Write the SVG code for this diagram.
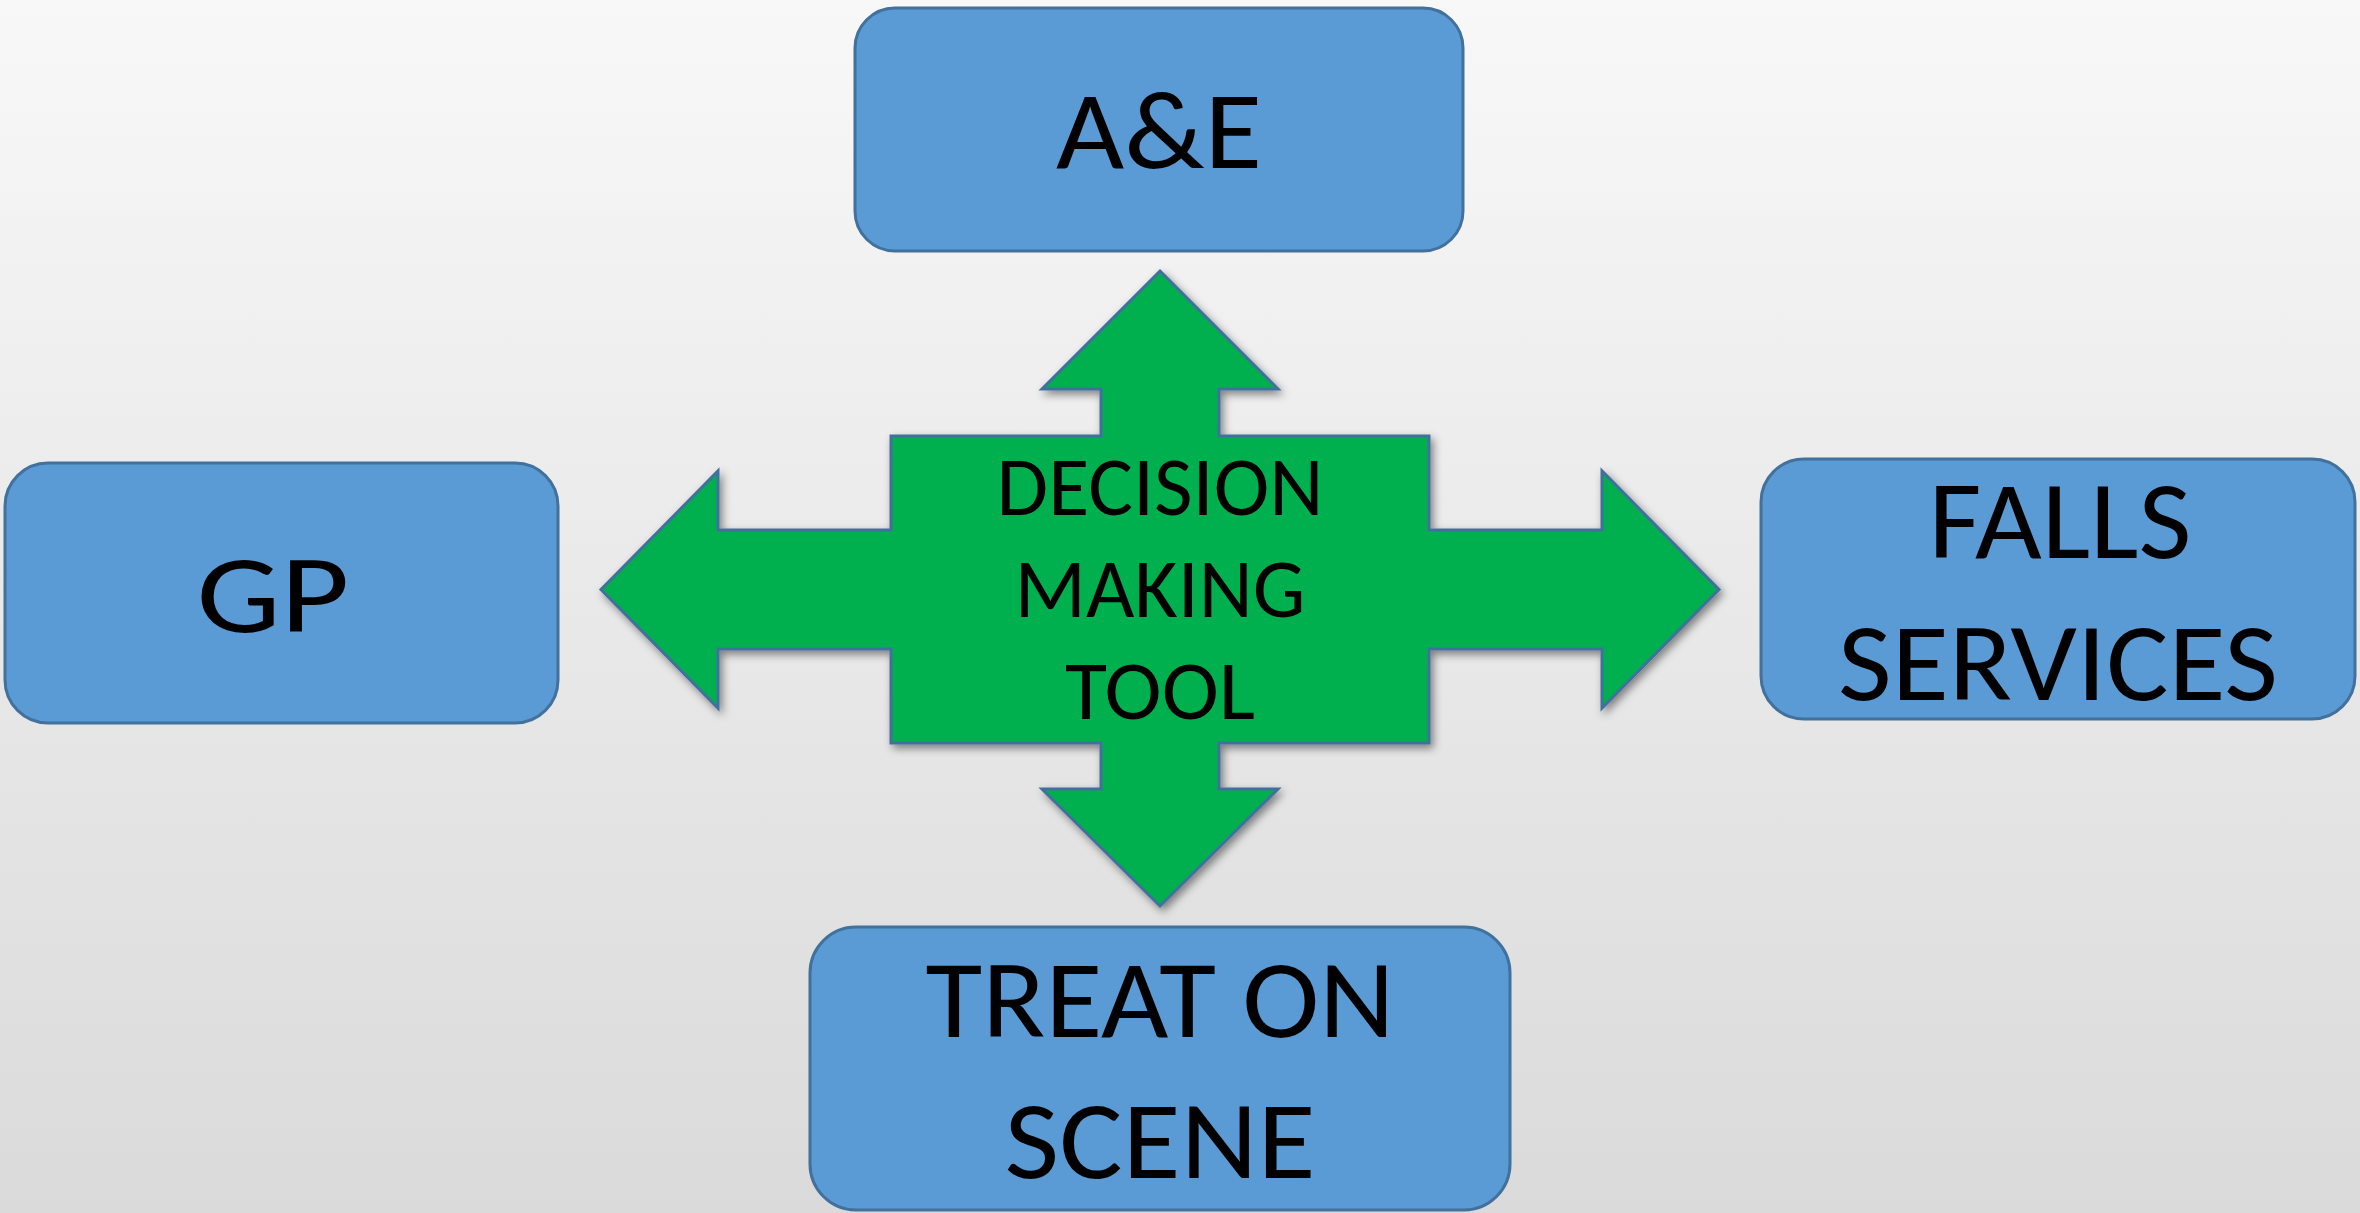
<svg xmlns="http://www.w3.org/2000/svg" width="2360" height="1213" viewBox="0 0 2360 1213">
  <defs>
    <linearGradient id="bg" x1="0" y1="0" x2="0" y2="1">
      <stop offset="0" stop-color="#f8f8f8"/>
      <stop offset="1" stop-color="#dadada"/>
    </linearGradient>
    <filter id="shadow" x="-10%" y="-10%" width="120%" height="120%">
      <feDropShadow dx="3" dy="4" stdDeviation="4" flood-color="#000" flood-opacity="0.45"/>
    </filter>
    <style>
      .box { fill: #5b9bd5; stroke: #41719c; stroke-width: 3; }
      .tool { fill: #00b050; stroke: #41719c; stroke-width: 3; stroke-linejoin: miter; }
      .label { font-family: Calibri, Carlito, Lato, "Liberation Sans", sans-serif; fill: #000; text-anchor: middle; }
      .big { font-size: 112px; }
      .small { font-size: 84px; }
    </style>
  </defs>

  <rect x="0" y="0" width="2360" height="1213" fill="url(#bg)"/>

  <!-- Central four-way arrow: the decision making tool -->
  <g id="decision-tool">
    <polygon class="tool" filter="url(#shadow)" points="1160,271 1278,389 1219,389 1219,436 1429,436 1429,530 1602,530 1602,471 1719,589.5 1602,708 1602,649 1429,649 1429,743 1219,743 1219,789 1278,789 1160,906 1042,789 1101,789 1101,743 891,743 891,649 718,649 718,708 601,589.5 718,471 718,530 891,530 891,436 1101,436 1101,389 1042,389"/>
    <text class="label small" x="1160" y="515" textLength="327" lengthAdjust="spacingAndGlyphs">DECISION</text>
    <text class="label small" x="1160" y="617" textLength="291" lengthAdjust="spacingAndGlyphs">MAKING</text>
    <text class="label small" x="1160" y="719" textLength="190" lengthAdjust="spacingAndGlyphs">TOOL</text>
  </g>

  <!-- Destination boxes -->
  <g id="node-ae">
    <rect class="box" x="855" y="8" width="608" height="243" rx="40" ry="40"/>
    <text class="label big" x="1159" y="168" textLength="206" lengthAdjust="spacingAndGlyphs">A&amp;E</text>
  </g>

  <g id="node-gp">
    <rect class="box" x="5" y="463" width="553" height="260" rx="43" ry="43"/>
    <text class="label big" x="273" y="632" textLength="153" lengthAdjust="spacingAndGlyphs">GP</text>
  </g>

  <g id="node-falls">
    <rect class="box" x="1761" y="459" width="594" height="260" rx="43" ry="43"/>
    <text class="label big" x="2060" y="558" textLength="263" lengthAdjust="spacingAndGlyphs">FALLS</text>
    <text class="label big" x="2058" y="700" textLength="440" lengthAdjust="spacingAndGlyphs">SERVICES</text>
  </g>

  <g id="node-treat">
    <rect class="box" x="810" y="927" width="700" height="283" rx="46" ry="46"/>
    <text class="label big" x="1160" y="1037" textLength="469" lengthAdjust="spacingAndGlyphs">TREAT ON</text>
    <text class="label big" x="1160" y="1178" textLength="311" lengthAdjust="spacingAndGlyphs">SCENE</text>
  </g>
</svg>
